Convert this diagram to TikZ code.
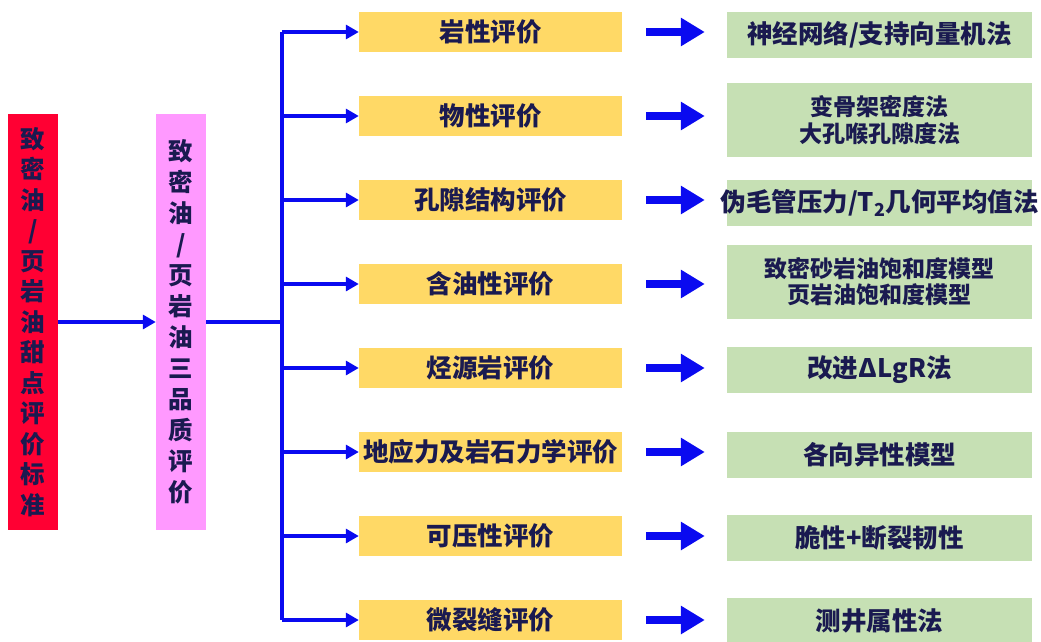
\documentclass[tikz,border=0pt]{standalone}
\usepackage{fontspec}
\setmainfont{Noto Sans CJK SC}
\usetikzlibrary{arrows.meta}
\definecolor{txt}{HTML}{1A1A50}
\definecolor{redb}{HTML}{FF0033}
\definecolor{pinkb}{HTML}{FF99FF}
\definecolor{yel}{HTML}{FFD966}
\definecolor{grn}{HTML}{C6E0B4}
\definecolor{blu}{HTML}{0A0AF0}
\begin{document}
\begin{tikzpicture}[x=1pt,y=-1pt,
  vbox/.style={minimum width=50pt, minimum height=416pt, inner sep=0pt, align=center, text=txt},
  ybox/.style={fill=yel, minimum width=263pt, minimum height=40pt, inner sep=0pt, text=txt, font=\fontsize{25.5}{28}\selectfont\bfseries},
  gbox/.style={fill=grn, minimum width=305pt, minimum height=46pt, inner sep=0pt, text=txt, align=center, font=\fontsize{25.5}{28}\selectfont\bfseries},
  gbox2/.style={gbox, minimum height=74pt, font=\fontsize{23}{26.5}\selectfont\bfseries},
  gtext/.style={inner sep=0pt, text=txt, font=\fontsize{25.5}{28}\selectfont\bfseries},
  conn/.style={draw=blu, line width=3.2pt},
  carrow/.style={conn, -{Triangle[length=13pt,width=14pt]}},
  bigarrow/.style={draw=blu, line width=8pt, -{Triangle[length=24pt,width=27pt]}}
]
\useasboundingbox (0,0) rectangle (1041,642);
\fill[white] (0,0) rectangle (1041,642);

\node[vbox, fill=redb, font=\fontsize{24.5}{30.5}\selectfont\bfseries] (red) at (33,322)
  {致\\密\\油\\/\\页\\岩\\油\\甜\\点\\评\\价\\标\\准};
\node[vbox, fill=pinkb, font=\fontsize{24.5}{31}\selectfont\bfseries] (pink) at (181,322)
  {致\\密\\油\\/\\页\\岩\\油\\三\\品\\质\\评\\价};

\node[ybox] (y1) at (490.5,32) {岩性评价};
\node[ybox] (y2) at (490.5,116) {物性评价};
\node[ybox] (y3) at (490.5,200) {孔隙结构评价};
\node[ybox] (y4) at (490.5,284) {含油性评价};
\node[ybox] (y5) at (490.5,368) {烃源岩评价};
\node[ybox] (y6) at (490.5,452) {地应力及岩石力学评价};
\node[ybox] (y7) at (490.5,536) {可压性评价};
\node[ybox] (y8) at (490.5,620) {微裂缝评价};

\node[gbox] (g1) at (879.5,35) {神经网络/支持向量机法};
\node[gbox2] (g2) at (879.5,120) {变骨架密度法\\大孔喉孔隙度法};
\node[gbox] (g3) at (879.5,203) {};
\node[gtext] (g3t) at (g3) {伪毛管压力/T\textsubscript{2}几何平均值法};
\node[gbox2] (g4) at (879.5,281.5) {致密砂岩油饱和度模型\\页岩油饱和度模型};
\node[gbox] (g5) at (879.5,370) {改进ΔLgR法};
\node[gbox] (g6) at (879.5,455) {各向异性模型};
\node[gbox] (g7) at (879.5,538) {脆性+断裂韧性};
\node[gbox] (g8) at (879.5,621) {测井属性法};

\coordinate (bus) at (282,322);
\coordinate (btop) at (282,32);
\coordinate (bbot) at (282,620);

\draw[carrow] (red.east |- red) -- (pink.west);
\draw[conn] (pink.east) -- (bus);
\draw[conn] (btop) -- (bbot);
\foreach \i in {1,...,8}{
  \draw[carrow] (bus |- y\i) -- (y\i.west);
  \draw[bigarrow] ([xshift=24pt]y\i.east) -- ([xshift=-22pt]y\i.east -| g1.west);
}
\end{tikzpicture}
\end{document}
